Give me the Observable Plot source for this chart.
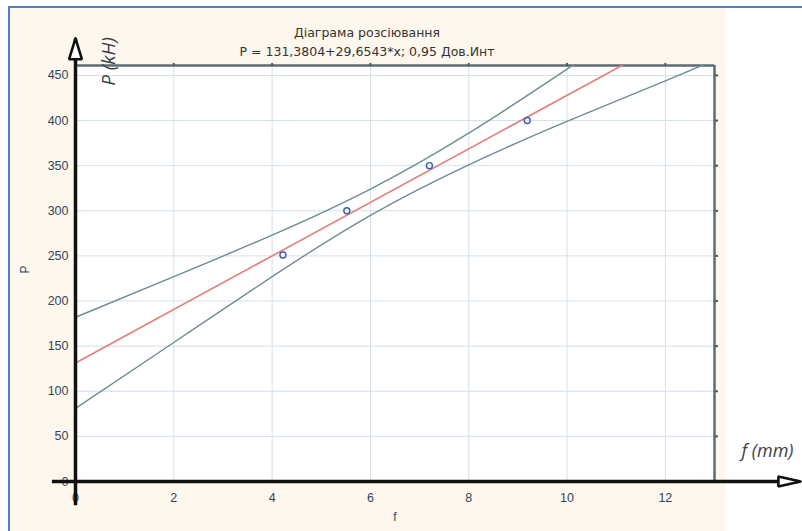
<!DOCTYPE html>
<html>
<head>
<meta charset="utf-8">
<script src="https://cdn.jsdelivr.net/npm/d3@7"></script>
<script src="https://cdn.jsdelivr.net/npm/@observablehq/plot@0.6"></script>
<style>
  html, body { margin: 0; padding: 0; background: #ffffff; }
  #wrap { position: relative; width: 802px; height: 531px; overflow: hidden; }
  #bg { position: absolute; left: 8px; top: 6px; right: 0; bottom: 0;
        border-top: 2px solid #4f7fc4; border-left: 2px solid #4f7fc4;
        background: linear-gradient(to right, #fef7ed 0px, #fef7ed 715px, #ffffff 715px); }
  #chart { position: absolute; left: 0; top: 0; }
</style>
</head>
<body>
<div id="wrap"><div id="bg"></div><div id="chart"></div></div>
<script>
// ---- data ----
const titleLine1 = "Діаграма розсіювання";
const titleLine2 = "P = 131,3804+29,6543*x; 0,95 Дов.Инт";
const xAxisTitle = "f";
const yAxisTitle = "P";
const xUnitLabel = "f (mm)";
const yUnitLabel = "P (kH)";

const xTicks = [0, 2, 4, 6, 8, 10, 12];
const yTicks = [0, 50, 100, 150, 200, 250, 300, 350, 400, 450];
const xDomain = [0, 13];
const yDomain = [0, 461];

// observed points
const pointsF = [4.22, 5.52, 7.20, 9.19];
const pointsP = [251, 300, 350, 400];

// fitted line (P = 131.3804 + 29.6543 f), end values
const fitF = [0, 13];
const fitP = [131.38, 516.89];

// 0.95 confidence band, read at these f values
const bandF = [0, 2, 4, 6, 8, 10, 12, 13];
const bandUpper = [182, 227, 273, 324, 386, 457, 530, 567];
const bandLower = [81, 154, 227, 295, 351, 399, 444, 467];

// hand-drawn arrow axes (extent in data units)
const xArrowF = [-0.47, 14.72];
const yArrowP = [-27, 490];
const yHeadF = [0, 0.13, -0.13, 0];
const yHeadP = [491, 468, 468, 491];
const xHeadF = [14.75, 14.3, 14.3, 14.75];
const xHeadP = [0, 5.5, -5.5, 0];

// ---- tables ----
const points = pointsF.map((f, i) => ({f, p: pointsP[i]}));
const fit = fitF.map((f, i) => ({f, p: fitP[i]}));
const band = [
  ...bandF.map((f, i) => ({f, p: bandUpper[i], k: "upper"})),
  ...bandF.map((f, i) => ({f, p: bandLower[i], k: "lower"}))
];
const yHead = yHeadF.map((f, i) => ({f, p: yHeadP[i]}));
const xHead = xHeadF.map((f, i) => ({f, p: xHeadP[i]}));

const textColor = "#33445a";
const font = "Liberation Sans, Arial, sans-serif";
const titleFont = "DejaVu Sans, sans-serif";
const unitFont = "Open Sans, sans-serif";

const chart = Plot.plot({
  width: 802,
  height: 531,
  marginLeft: 75,
  marginRight: 88,
  marginTop: 65,
  marginBottom: 50,
  style: {background: "transparent", fontFamily: font},
  x: {domain: xDomain},
  y: {domain: yDomain},
  marks: [
    Plot.frame({fill: "white", stroke: "none"}),
    Plot.gridX(xTicks, {stroke: "#d4e0eb", strokeOpacity: 1}),
    Plot.gridY(yTicks, {stroke: "#d4e0eb", strokeOpacity: 1}),
    Plot.ruleY([yDomain[1]], {stroke: "#5c6c74", strokeWidth: 2.5}),
    Plot.ruleX([xDomain[1]], {stroke: "#5c6c74", strokeWidth: 2.5}),
    Plot.axisX({anchor: "top", ticks: xTicks, tickSize: 3, tickFormat: () => "", stroke: "#4a5a62", strokeWidth: 2, label: null}),
    Plot.axisY({anchor: "right", ticks: yTicks, tickSize: 3, tickFormat: () => "", stroke: "#4a5a62", strokeWidth: 2, label: null}),
    Plot.axisX({ticks: xTicks, tickSize: 0, tickPadding: 12, fontSize: 12.5, fill: textColor, label: null}),
    Plot.axisY({ticks: yTicks, tickSize: 0, tickPadding: 7, fontSize: 12.5, fill: textColor, label: null}),
    Plot.line(band, {x: "f", y: "p", z: "k", curve: "natural", stroke: "#6f8c95", strokeWidth: 1.4, clip: true}),
    Plot.line(fit, {x: "f", y: "p", stroke: "#e27d7a", strokeWidth: 1.6, clip: true}),
    Plot.dot(points, {x: "f", y: "p", r: 3, stroke: "#3a5bb0", strokeWidth: 1.4, fill: "none"}),
    // arrow axes
    Plot.ruleX([0], {y1: yArrowP[0], y2: yArrowP[1], stroke: "#111", strokeWidth: 3.5}),
    Plot.ruleY([0], {x1: xArrowF[0], x2: xArrowF[1], stroke: "#111", strokeWidth: 3.5}),
    Plot.line(yHead, {x: "f", y: "p", stroke: "#111", strokeWidth: 2.6, fill: "white", strokeLinejoin: "miter"}),
    Plot.line(xHead, {x: "f", y: "p", stroke: "#111", strokeWidth: 2.6, fill: "white", strokeLinejoin: "miter"}),
    // texts
    Plot.text([titleLine1], {frameAnchor: "top", dx: -28, dy: -37, fontSize: 12.5, fill: "#333", fontFamily: titleFont, letterSpacing: "0.3px"}),
    Plot.text([titleLine2], {frameAnchor: "top", dx: -28, dy: -18, fontSize: 12.5, fill: "#333", fontFamily: titleFont, letterSpacing: "0.3px"}),
    Plot.text([yAxisTitle], {frameAnchor: "left", dx: -50, rotate: -90, fontSize: 12, fill: textColor}),
    Plot.text([xAxisTitle], {frameAnchor: "bottom", dy: 39, fontSize: 12, fill: textColor}),
    Plot.text([yUnitLabel], {frameAnchor: "top-left", textAnchor: "middle", dx: 26, dy: -4, rotate: -90, fontSize: 19, fontStyle: "italic", fill: "#3a3f48", fontFamily: unitFont}),
    Plot.text([xUnitLabel], {frameAnchor: "bottom-right", textAnchor: "middle", dx: 53, dy: -25, fontSize: 18, fontStyle: "italic", fill: "#3a3f48", fontFamily: unitFont})
  ]
});
document.getElementById("chart").appendChild(chart);
</script>
</body>
</html>
